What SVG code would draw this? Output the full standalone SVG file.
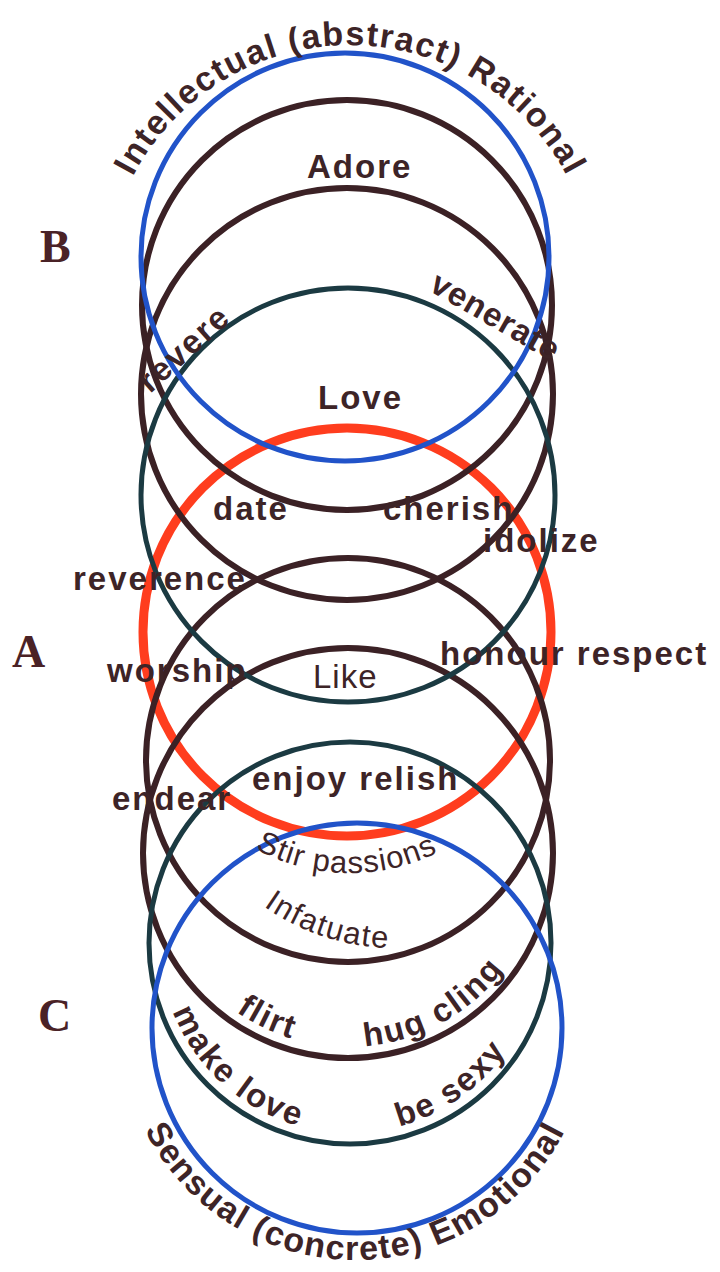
<svg xmlns="http://www.w3.org/2000/svg" width="720" height="1272" viewBox="0 0 720 1272">
<style>
.c{fill:none}
.red{stroke:#ff3d1e;stroke-width:9}
.brn{stroke:#3b2125;stroke-width:6}
.tea{stroke:#1b3a42;stroke-width:5}
.blu{stroke:#2153c9;stroke-width:5}
.t{font-family:"Liberation Sans",Arial,sans-serif;font-weight:bold;font-size:33px;fill:#3d2427;letter-spacing:2px}
.r{font-weight:normal}
.L{font-family:"Liberation Serif","Times New Roman",serif;font-weight:bold;font-size:46px;fill:#4a2226}
</style>
<defs>
<path id="arcTop" d="M105,290 A245,245 0 0 1 595,290"/>
<path id="arcBot" d="M120,1025 A235,235 0 0 0 590,1025"/>
<path id="arcTeal" d="M160,943 A190,190 0 0 0 540,943"/>
<path id="arcBrown" d="M153,852 A195,195 0 0 0 543,852"/>
<path id="arcInf" d="M167,720 A228,228 0 0 0 623,720"/>
<path id="arcStir" d="M152,675 A198,198 0 0 0 548,675"/>
</defs>
<rect width="720" height="1272" fill="#fff"/>
<g id="circles">
<g id="circle-red"><circle class="c red" cx="347" cy="632" r="204"/></g>
<g id="circle-brown1"><circle class="c brn" cx="347" cy="305" r="205"/></g>
<g id="circle-brown2"><circle class="c brn" cx="347" cy="394" r="206"/></g>
<g id="circle-brown3"><circle class="c brn" cx="348" cy="760" r="202"/></g>
<g id="circle-brown4"><circle class="c brn" cx="348" cy="853" r="205"/></g>
<g id="circle-teal1"><circle class="c tea" cx="348" cy="495" r="207"/></g>
<g id="circle-teal2"><circle class="c tea" cx="350" cy="943" r="201"/></g>
<g id="circle-blue1"><circle class="c blu" cx="345" cy="257" r="204"/></g>
<g id="circle-blue2"><circle class="c blu" cx="357" cy="1028" r="205"/></g>
</g>
<g id="letters">
<g id="label-B"><text class="L" x="40" y="262">B</text></g>
<g id="label-A"><text class="L" x="12" y="667">A</text></g>
<g id="label-C"><text class="L" x="38" y="1031">C</text></g>
</g>
<g id="labels">
<g id="lbl-top"><text class="t" style="font-size:34px;letter-spacing:1.5px"><textPath href="#arcTop" startOffset="50%" text-anchor="middle">Intellectual (abstract) Rational</textPath></text></g>
<g id="lbl-adore"><text class="t" x="307" y="178">Adore</text></g>
<g id="lbl-revere"><text class="t" transform="translate(150,394) rotate(-42)">revere</text></g>
<g id="lbl-venerate"><text class="t" transform="translate(428,290) rotate(30)" style="letter-spacing:1px">venerate</text></g>
<g id="lbl-love"><text class="t" x="318" y="409">Love</text></g>
<g id="lbl-date"><text class="t" x="213" y="520">date</text></g>
<g id="lbl-cherish"><text class="t" x="383" y="520">cherish</text></g>
<g id="lbl-idolize"><text class="t" x="483" y="552">idolize</text></g>
<g id="lbl-reverence"><text class="t" x="73" y="590">reverence</text></g>
<g id="lbl-worship"><text class="t" x="107" y="682">worship</text></g>
<g id="lbl-honour"><text class="t" x="440" y="665">honour respect</text></g>
<g id="lbl-like"><text class="t r" x="313" y="688" style="letter-spacing:1px">Like</text></g>
<g id="lbl-endear"><text class="t" x="112" y="810">endear</text></g>
<g id="lbl-enjoy"><text class="t" x="252" y="790">enjoy relish</text></g>
<g id="lbl-stir"><text class="t r" style="font-size:31px;letter-spacing:1px"><textPath href="#arcStir" startOffset="212">Stir passions</textPath></text></g>
<g id="lbl-infatuate"><text class="t r" style="font-size:31px;letter-spacing:1.5px"><textPath href="#arcInf" startOffset="218">Infatuate</textPath></text></g>
<g id="lbl-flirt"><text class="t"><textPath href="#arcBrown" startOffset="187">flirt</textPath></text></g>
<g id="lbl-hug"><text class="t"><textPath href="#arcBrown" startOffset="323">hug cling</textPath></text></g>
<g id="lbl-makelove"><text class="t"><textPath href="#arcTeal" startOffset="70">make love</textPath></text></g>
<g id="lbl-sexy"><text class="t"><textPath href="#arcTeal" startOffset="348">be sexy</textPath></text></g>
<g id="lbl-bottom"><text class="t" style="font-size:34px;letter-spacing:1.5px"><textPath href="#arcBot" startOffset="50%" text-anchor="middle">Sensual (concrete) Emotional</textPath></text></g>
</g>
</svg>
